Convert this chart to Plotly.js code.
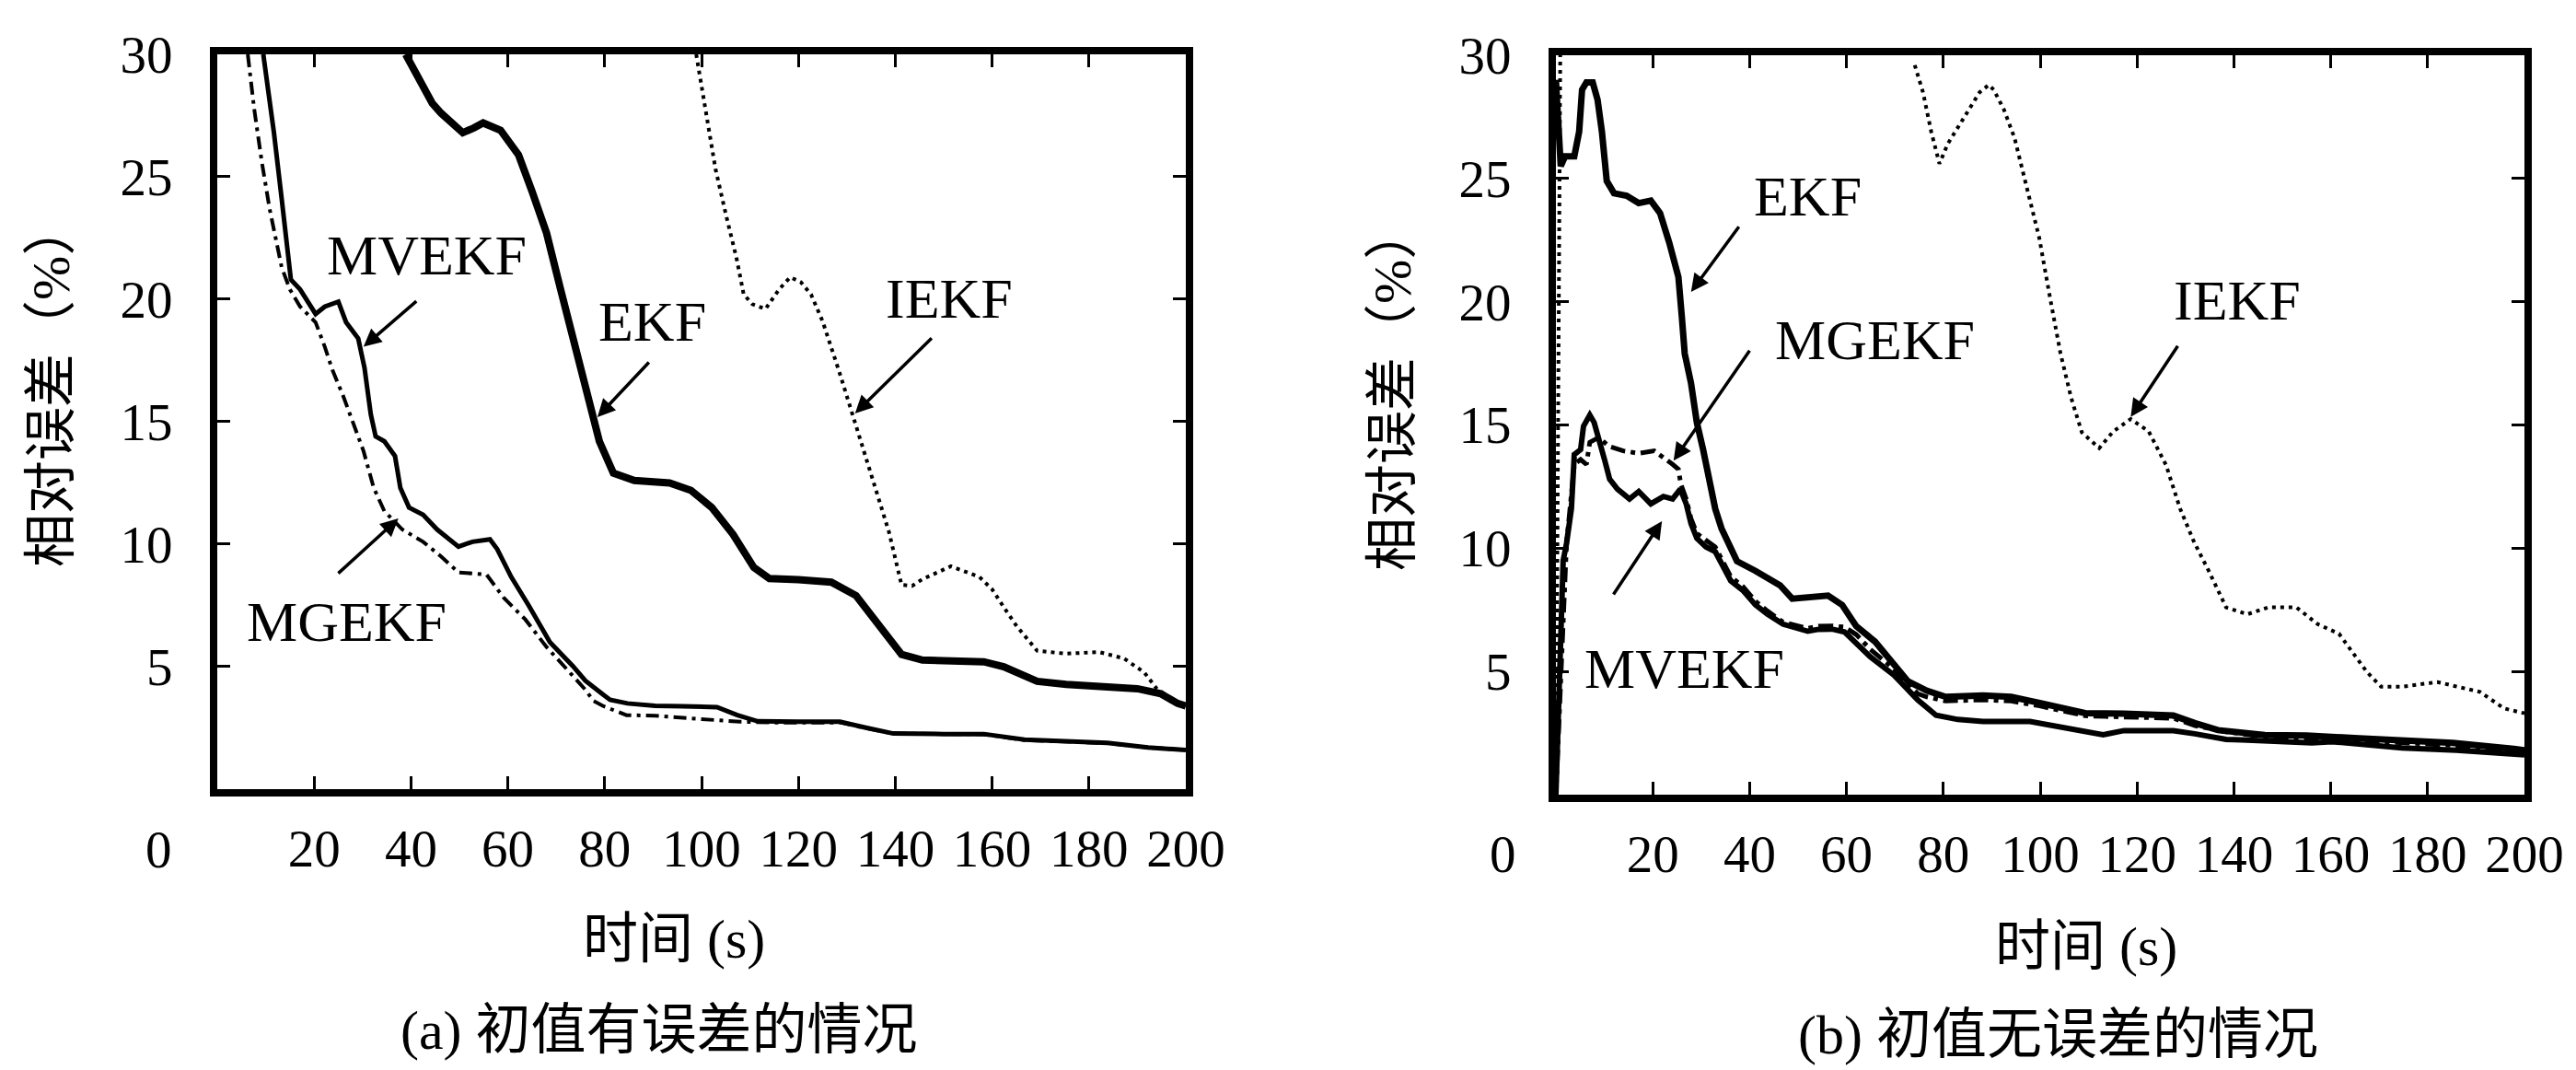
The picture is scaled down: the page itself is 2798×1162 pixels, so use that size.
<!DOCTYPE html>
<html>
<head>
<meta charset="utf-8">
<script src="https://cdn.plot.ly/plotly-3.0.1.min.js"></script>
<style>html,body{margin:0;padding:0;background:#fff;}#chart{width:2798px;height:1162px;}</style>
</head>
<body>
<div id="chart"></div>
<script>
// ---------- Panel (a): initial value with error ----------
const aEKF_t = [38.9,42.5,44.4,46.2,50.7,53,54.9,58.5,62.2,65,68,70.9,73.8,76.7,78.9,81.8,86.1,93.4,97.8,102.1,106.5,110.8,114,120,126.8,131.9,137,141.3,145.6,152,158.3,162.4,166,169.3,175.3,184.7,190,194.8,198.3,200];
const aEKF_y = [30,28.6,28.0,27.6,26.8,27.0,27.2,26.9,25.9,24.4,22.7,20.4,18.2,15.9,14.2,12.9,12.6,12.5,12.2,11.5,10.4,9.05,8.6,8.55,8.45,7.9,6.6,5.5,5.27,5.25,5.2,5.0,4.68,4.4,4.28,4.14,4.1,3.9,3.5,3.4];

const aMVEKF_t = [9.5,11.7,13.3,15.2,17.1,20.3,22.2,25,26.6,29.1,30.4,31.7,32.7,34.5,36.7,37.8,39.6,42.5,45.4,49.8,52.7,56.3,57.8,60.7,64.3,68.7,73.4,76,79.6,81.1,84.7,90.4,96,103.2,107.4,111.6,120,128.6,133.7,139.6,150,158.3,166.7,175,183.8,192.2,200];
const aMVEKF_y = [30,26.8,24.1,20.8,20.4,19.4,19.7,19.9,19.06,18.4,17.2,15.3,14.4,14.2,13.6,12.3,11.5,11.2,10.6,9.9,10.1,10.2,9.8,8.66,7.5,6.0,5.03,4.43,3.87,3.65,3.5,3.4,3.38,3.35,3.02,2.77,2.75,2.75,2.52,2.27,2.25,2.25,2.02,1.95,1.89,1.7,1.6];

const aMGEKF_t = [6.3,7.6,9.2,10.8,13.3,15,17.1,20.3,22.2,23.8,26,28,30.2,32.3,34.5,38.2,42.5,46.2,49.8,55.6,59.2,63.6,68,71.7,76,77.7,79.6,84.5,90.4,97,104.4,108,115,128.6,133.7,139.6,158.3,166.7,183.8,192.2,200];
const aMGEKF_y = [30,27.8,25.6,23.7,21.3,20.4,19.7,19.06,18.06,17.1,16.05,15.0,13.8,12.3,11.35,10.6,10.1,9.5,8.85,8.76,7.8,6.93,5.8,5.0,4.06,3.6,3.4,3.02,3.0,2.9,2.82,2.75,2.72,2.72,2.5,2.27,2.24,2.0,1.88,1.7,1.6];

const aIEKF_t = [98.9,100.7,102.9,105.1,107.2,108.7,110.5,113.2,116,118.3,120.5,122.6,125,128.5,131.9,135.3,138.7,141.3,143.5,145.5,151.5,157.4,160,162.5,165.1,169.3,175.3,182,187.2,191.4,194,197,200];
const aIEKF_y = [30,27.8,25.3,23.4,21.7,20.2,19.8,19.6,20.4,20.9,20.7,20.2,19.1,17.0,14.8,12.65,10.5,8.34,8.3,8.56,9.1,8.66,8.16,7.4,6.65,5.65,5.53,5.6,5.34,4.77,4.1,3.7,3.4];

// ---------- Panel (b): initial value without error ----------
const bEKF_t = [0,1,1.9,3.8,4.8,5.4,6.3,7.6,8.6,9.5,10.5,12,14.6,17.1,19.6,21.5,23.4,25.3,26,26.6,27.9,29.1,30.4,31.7,32.9,34.2,36.1,37.4,41.2,44.4,46.3,48.8,52,56.2,59.1,62,65.9,69.8,72.7,76.6,80.5,88.2,94,99.9,103,109.3,117.3,127.5,132,136.7,146.4,155,165.8,175,185.2,197.8,200];
const bEKF_y = [29,25.5,25.9,25.9,26.9,28.6,28.9,28.9,28.2,26.9,24.9,24.4,24.3,24.0,24.1,23.6,22.4,21.0,19.4,17.9,16.7,15.1,14.0,12.8,11.6,10.8,10.05,9.47,9.08,8.68,8.49,7.95,8.0,8.08,7.7,6.84,6.21,5.34,4.6,4.22,3.97,4.03,3.97,3.72,3.6,3.31,3.29,3.21,2.9,2.62,2.42,2.4,2.29,2.2,2.1,1.86,1.8];

const bMVEKF_t = [0,1.5,2.2,3.2,3.8,5.1,5.7,7.0,7.9,8.9,10.1,11.1,12.7,15.2,17.1,19.6,22.2,24.1,25.7,26.9,27.9,29.1,31.0,32.9,34.5,36.1,38.6,41.2,43.7,46.9,52,54.3,57,59.6,64.9,69.8,74.7,78.5,83,88.2,97.9,102,107.6,113,117.3,127.5,131.9,138.4,141.6,156.1,160.2,174.7,186,198.8,200];
const bMVEKF_y = [0,9.5,10.2,11.6,13.8,14.0,14.95,15.4,15.1,14.3,13.55,12.8,12.4,12.0,12.3,11.8,12.1,12.0,12.4,11.8,11.0,10.4,10.05,9.86,9.27,8.68,8.29,7.7,7.32,6.92,6.63,6.71,6.72,6.6,5.6,4.85,3.85,3.22,3.05,2.97,2.97,2.82,2.6,2.43,2.6,2.6,2.47,2.24,2.22,2.1,2.15,1.9,1.8,1.65,1.62];

const bMGEKF_t = [0,2.2,3.8,5.1,6.3,7.0,8.9,10.8,13.9,17.1,20.3,22.2,24.1,25.3,25.8,26.9,27.9,29.1,31,32.9,34.5,36.1,38.6,41.2,43.7,46.9,52,54.3,57,59.6,62,64.9,69.8,74.7,76.6,80.5,88.2,94,99.9,109.3,117.3,127.5,132,138.4,146.4,165.8,185.2,200];
const bMGEKF_y = [0,10.2,13.4,13.6,13.4,14.3,14.5,14.15,13.95,13.85,13.95,13.7,13.4,13.2,12.6,12.0,11.2,10.6,10.3,10.05,9.45,8.85,8.45,7.85,7.45,7.0,6.75,6.84,6.85,6.8,6.5,5.9,5.1,4.1,3.97,3.8,3.85,3.8,3.6,3.2,3.15,3.1,2.8,2.55,2.35,2.2,2.0,1.75];

const bIEKF_t = [0,0.9,40,74.1,75.8,77.5,79.2,80.9,84.3,87.5,89.4,90.4,92.5,94.7,96.9,99.8,102,104.2,106.4,108.6,112.2,115.1,118.7,122.4,126,128.9,131.8,134.8,138.4,142.8,147.1,152.9,157.3,161.7,164.6,167.5,170.4,174.7,182,190.8,195.8,200];
const bIEKF_y = [0,30,null,29.6,28.5,26.9,25.6,26.4,27.5,28.5,28.8,28.6,27.8,26.65,24.9,22.6,20.2,17.9,16.1,14.7,14.06,14.74,15.24,14.74,13.37,11.6,10.24,9.08,7.6,7.32,7.6,7.6,6.92,6.53,5.75,4.97,4.38,4.38,4.57,4.17,3.5,3.3];

// ---------- tick labels & texts ----------
const xTickVals = [20,40,60,80,100,120,140,160,180,200];
const xTickText = ['20','40','60','80','100','120','140','160','180','200'];
const yTickVals = [5,10,15,20,25,30];
const yTickText = ['5','10','15','20','25','30'];
const yTitle = '相对误差（%）';
const xTitle = '时间 (s)';
const captionA = '(a) 初值有误差的情况';
const captionB = '(b) 初值无误差的情况';

const SERIF = 'Liberation Serif, Noto Sans CJK SC, serif';
const CJK = 'Liberation Serif, Noto Sans CJK SC, sans-serif';

function tr(x, y, xa, ya, w, dash) {
  return {x: x, y: y, xaxis: xa, yaxis: ya, type: 'scatter', mode: 'lines',
          line: {color: '#000', width: w, dash: dash || 'solid'},
          connectgaps: false, hoverinfo: 'skip', showlegend: false, cliponaxis: true};
}

const data = [
  tr(aIEKF_t, aIEKF_y, 'x', 'y', 4, '4px,5px'),
  tr(aMGEKF_t, aMGEKF_y, 'x', 'y', 4, '14px,6px,4px,6px'),
  tr(aMVEKF_t, aMVEKF_y, 'x', 'y', 5),
  tr(aEKF_t, aEKF_y, 'x', 'y', 8),
  tr(bIEKF_t, bIEKF_y, 'x2', 'y2', 4, '4px,5px'),
  tr(bMGEKF_t, bMGEKF_y, 'x2', 'y2', 5, '16px,6px,5px,6px'),
  tr(bMVEKF_t, bMVEKF_y, 'x2', 'y2', 6),
  tr(bEKF_t, bEKF_y, 'x2', 'y2', 7)
];

function xax(domain, anchor) {
  return {domain: domain, anchor: anchor, range: [0, 200], tickmode: 'array',
          tickvals: xTickVals, ticktext: xTickText, ticks: 'inside', ticklen: 14, tickwidth: 3,
          tickcolor: '#000', showline: true, linewidth: 8, linecolor: '#000', mirror: 'ticks',
          showgrid: false, zeroline: false, ticklabelstandoff: 8,
          tickfont: {family: SERIF, size: 57, color: '#000'}, fixedrange: true};
}
function yax(domain, anchor) {
  return {domain: domain, anchor: anchor, range: [0, 30], tickmode: 'array',
          tickvals: yTickVals, ticktext: yTickText, ticks: 'inside', ticklen: 14, tickwidth: 3,
          tickcolor: '#000', showline: true, linewidth: 8, linecolor: '#000', mirror: 'ticks',
          showgrid: false, zeroline: false, ticklabelstandoff: 29,
          tickfont: {family: SERIF, size: 57, color: '#000'}, fixedrange: true};
}

function lbl(text, xref, yref, x, y) {
  return {text: text, xref: xref, yref: yref, x: x, y: y, showarrow: false,
          font: {family: SERIF, size: 62, color: '#000'}, xanchor: 'center', yanchor: 'middle'};
}
function arr(xref, yref, tx, ty, hx, hy) {
  return {text: '', xref: xref, yref: yref, axref: xref, ayref: yref, x: hx, y: hy, ax: tx, ay: ty,
          showarrow: true, arrowhead: 2, arrowsize: 1.1, arrowwidth: 3.5, arrowcolor: '#000', standoff: 0, startstandoff: 0};
}
function ptext(text, x, y, size, angle) {
  return {text: text, xref: 'paper', yref: 'paper', x: x, y: y, showarrow: false,
          textangle: angle || 0, xanchor: 'center', yanchor: 'middle',
          font: {family: CJK, size: size, color: '#000'}};
}

const annotations = [
  // panel (a)
  lbl('MVEKF', 'x', 'y', 43.2, 21.8),
  arr('x', 'y', 41.4, 19.97, 30.2, 18.06),
  lbl('EKF', 'x', 'y', 89.8, 19.1),
  arr('x', 'y', 89.4, 17.48, 78.5, 15.19),
  lbl('MGEKF', 'x', 'y', 26.8, 6.84),
  arr('x', 'y', 24.7, 8.76, 37.4, 11.05),
  lbl('IEKF', 'x', 'y', 151.1, 20.04),
  arr('x', 'y', 147.8, 18.47, 131.7, 15.34),
  // panel (b)
  lbl('EKF', 'x2', 'y2', 52.05, 24.3),
  arr('x2', 'y2', 38.0, 23.1, 27.9, 20.4),
  lbl('MGEKF', 'x2', 'y2', 65.8, 18.45),
  arr('x2', 'y2', 40.2, 18.07, 24.3, 13.55),
  lbl('MVEKF', 'x2', 'y2', 26.5, 5.12),
  arr('x2', 'y2', 11.7, 8.07, 21.9, 11.1),
  lbl('IEKF', 'x2', 'y2', 140.6, 20.06),
  arr('x2', 'y2', 128.6, 18.26, 118.7, 15.33),
  // origin "0" labels
  {text: '0', xref: 'paper', yref: 'paper', x: 0.0618, y: 0.2065, showarrow: false,
   xanchor: 'center', yanchor: 'middle', font: {family: SERIF, size: 57, color: '#000'}},
  {text: '0', xref: 'paper', yref: 'paper', x: 0.5836, y: 0.2022, showarrow: false,
   xanchor: 'center', yanchor: 'middle', font: {family: SERIF, size: 57, color: '#000'}},
  // axis titles
  ptext(yTitle, 0.0200, 0.6403, 58, -90),
  ptext(yTitle, 0.5404, 0.6368, 58, -90),
  ptext(xTitle, 0.2616, 0.1222, 60),
  ptext(xTitle, 0.8099, 0.1153, 60),
  // captions
  ptext(captionA, 0.2559, 0.0370, 60),
  ptext(captionB, 0.7988, 0.0330, 60)
];

const layout = {
  width: 2798, height: 1162, autosize: false,
  margin: {l: 0, r: 0, t: 0, b: 0, pad: 0},
  paper_bgcolor: '#fff', plot_bgcolor: '#fff',
  showlegend: false,
  xaxis: xax([0.08435, 0.46033], 'y'),
  yaxis: yax([0.26248, 0.94923], 'x'),
  xaxis2: xax([0.60400, 0.97999], 'y2'),
  yaxis2: yax([0.25731, 0.94836], 'x2'),
  annotations: annotations
};

Plotly.newPlot('chart', data, layout, {staticPlot: true, displayModeBar: false});
</script>
</body>
</html>
